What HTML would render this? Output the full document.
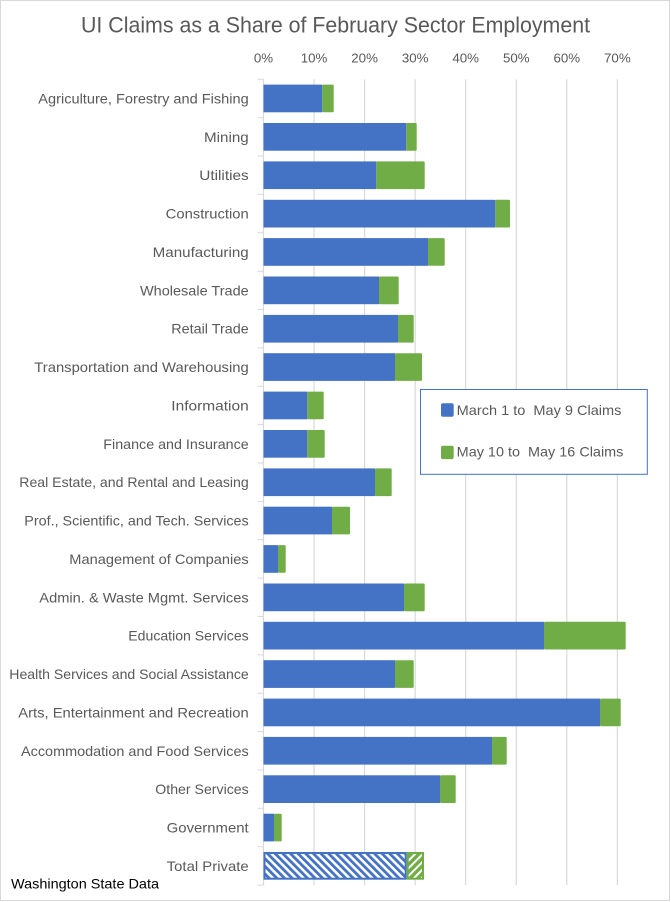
<!DOCTYPE html>
<html><head><meta charset="utf-8"><style>
html,body{margin:0;padding:0;background:#fff;}
svg{display:block;}
text{font-family:"Liberation Sans",Arial,sans-serif;}
</style></head><body>
<svg width="671" height="902" viewBox="0 0 671 902" xmlns="http://www.w3.org/2000/svg">
<defs>
<pattern id="hb" patternUnits="userSpaceOnUse" width="5.4" height="5.4" patternTransform="rotate(-45)">
<rect x="0" y="0" width="5.4" height="5.4" fill="#fff"/>
<rect x="0" y="0" width="2.8" height="5.4" fill="#4472C4"/>
</pattern>
<pattern id="hg" patternUnits="userSpaceOnUse" width="5.4" height="5.4" patternTransform="rotate(45)">
<rect x="0" y="0" width="5.4" height="5.4" fill="#70AD47"/>
<rect x="0" y="0" width="2" height="5.4" fill="#fff"/>
</pattern>
</defs>
<rect x="0" y="0" width="671" height="902" fill="#fff"/>
<rect x="0.5" y="0.5" width="669" height="900" fill="none" stroke="#d9d9d9" stroke-width="1"/>

<text x="335.5" y="32.7" font-size="22" fill="#595959" text-anchor="middle" textLength="509" lengthAdjust="spacingAndGlyphs">UI Claims as a Share of February Sector Employment</text>

<g font-size="13.3" fill="#595959" text-anchor="middle">
<text x="263.5" y="62.3">0%</text>
<text x="314.05" y="62.3">10%</text>
<text x="364.6" y="62.3">20%</text>
<text x="415.15" y="62.3">30%</text>
<text x="465.7" y="62.3">40%</text>
<text x="516.25" y="62.3">50%</text>
<text x="566.8" y="62.3">60%</text>
<text x="617.35" y="62.3">70%</text>
</g>

<g stroke="#d9d9d9" stroke-width="1.2">
<line x1="314.05" y1="79.3" x2="314.05" y2="885.1"/>
<line x1="364.6" y1="79.3" x2="364.6" y2="885.1"/>
<line x1="415.15" y1="79.3" x2="415.15" y2="885.1"/>
<line x1="465.7" y1="79.3" x2="465.7" y2="885.1"/>
<line x1="516.25" y1="79.3" x2="516.25" y2="885.1"/>
<line x1="566.8" y1="79.3" x2="566.8" y2="885.1"/>
<line x1="617.35" y1="79.3" x2="617.35" y2="885.1"/>
<line x1="263.5" y1="79.3" x2="263.5" y2="885.1"/>
</g>
<g stroke="#d9d9d9" stroke-width="1">
<line x1="257.5" x2="263.5" y1="79.3" y2="79.3"/>
<line x1="257.5" x2="263.5" y1="117.7" y2="117.7"/>
<line x1="257.5" x2="263.5" y1="156.0" y2="156.0"/>
<line x1="257.5" x2="263.5" y1="194.4" y2="194.4"/>
<line x1="257.5" x2="263.5" y1="232.8" y2="232.8"/>
<line x1="257.5" x2="263.5" y1="271.2" y2="271.2"/>
<line x1="257.5" x2="263.5" y1="309.5" y2="309.5"/>
<line x1="257.5" x2="263.5" y1="347.9" y2="347.9"/>
<line x1="257.5" x2="263.5" y1="386.3" y2="386.3"/>
<line x1="257.5" x2="263.5" y1="424.6" y2="424.6"/>
<line x1="257.5" x2="263.5" y1="463.0" y2="463.0"/>
<line x1="257.5" x2="263.5" y1="501.4" y2="501.4"/>
<line x1="257.5" x2="263.5" y1="539.7" y2="539.7"/>
<line x1="257.5" x2="263.5" y1="578.1" y2="578.1"/>
<line x1="257.5" x2="263.5" y1="616.5" y2="616.5"/>
<line x1="257.5" x2="263.5" y1="654.9" y2="654.9"/>
<line x1="257.5" x2="263.5" y1="693.2" y2="693.2"/>
<line x1="257.5" x2="263.5" y1="731.6" y2="731.6"/>
<line x1="257.5" x2="263.5" y1="770.0" y2="770.0"/>
<line x1="257.5" x2="263.5" y1="808.3" y2="808.3"/>
<line x1="257.5" x2="263.5" y1="846.7" y2="846.7"/>
<line x1="257.5" x2="263.5" y1="885.1" y2="885.1"/>
</g>

<g font-size="14" fill="#595959" text-anchor="end" lengthAdjust="spacingAndGlyphs">
<text x="248.7" y="103.5" textLength="210.4" lengthAdjust="spacingAndGlyphs">Agriculture, Forestry and Fishing</text>
<text x="248.7" y="141.9" textLength="44.7" lengthAdjust="spacingAndGlyphs">Mining</text>
<text x="248.7" y="180.2" textLength="49.4" lengthAdjust="spacingAndGlyphs">Utilities</text>
<text x="248.7" y="218.6" textLength="83" lengthAdjust="spacingAndGlyphs">Construction</text>
<text x="248.7" y="257.0" textLength="96" lengthAdjust="spacingAndGlyphs">Manufacturing</text>
<text x="248.7" y="295.3" textLength="108.7" lengthAdjust="spacingAndGlyphs">Wholesale Trade</text>
<text x="248.7" y="333.7" textLength="77.4" lengthAdjust="spacingAndGlyphs">Retail Trade</text>
<text x="248.7" y="372.1" textLength="214.4" lengthAdjust="spacingAndGlyphs">Transportation and Warehousing</text>
<text x="248.7" y="410.5" textLength="77.4" lengthAdjust="spacingAndGlyphs">Information</text>
<text x="248.7" y="448.8" textLength="145.4" lengthAdjust="spacingAndGlyphs">Finance and Insurance</text>
<text x="248.7" y="487.2" textLength="229.4" lengthAdjust="spacingAndGlyphs">Real Estate, and Rental and Leasing</text>
<text x="248.7" y="525.6" textLength="224.4" lengthAdjust="spacingAndGlyphs">Prof., Scientific, and Tech. Services</text>
<text x="248.7" y="563.9" textLength="179.4" lengthAdjust="spacingAndGlyphs">Management of Companies</text>
<text x="248.7" y="602.3" textLength="209.4" lengthAdjust="spacingAndGlyphs">Admin. &amp; Waste Mgmt. Services</text>
<text x="248.7" y="640.7" textLength="120.4" lengthAdjust="spacingAndGlyphs">Education Services</text>
<text x="248.7" y="679.0" textLength="239.4" lengthAdjust="spacingAndGlyphs">Health Services and Social Assistance</text>
<text x="248.7" y="717.4" textLength="230.4" lengthAdjust="spacingAndGlyphs">Arts, Entertainment and Recreation</text>
<text x="248.7" y="755.8" textLength="227.7" lengthAdjust="spacingAndGlyphs">Accommodation and Food Services</text>
<text x="248.7" y="794.1" textLength="93.4" lengthAdjust="spacingAndGlyphs">Other Services</text>
<text x="248.7" y="832.5" textLength="82" lengthAdjust="spacingAndGlyphs">Government</text>
<text x="248.7" y="870.9" textLength="82" lengthAdjust="spacingAndGlyphs">Total Private</text>
</g>

<g fill="#4472C4">
<rect x="263.5" y="84.6" width="58.8" height="27.7"/>
<rect x="263.5" y="123.0" width="142.8" height="27.7"/>
<rect x="263.5" y="161.4" width="112.8" height="27.7"/>
<rect x="263.5" y="199.8" width="231.8" height="27.7"/>
<rect x="263.5" y="238.1" width="164.5" height="27.7"/>
<rect x="263.5" y="276.5" width="115.5" height="27.7"/>
<rect x="263.5" y="314.9" width="134.5" height="27.7"/>
<rect x="263.5" y="353.2" width="131.5" height="27.7"/>
<rect x="263.5" y="391.6" width="43.8" height="27.7"/>
<rect x="263.5" y="430.0" width="43.8" height="27.7"/>
<rect x="263.5" y="468.4" width="111.5" height="27.7"/>
<rect x="263.5" y="506.7" width="68.5" height="27.7"/>
<rect x="263.5" y="545.1" width="14.5" height="27.7"/>
<rect x="263.5" y="583.5" width="140.5" height="27.7"/>
<rect x="263.5" y="621.8" width="280.5" height="27.7"/>
<rect x="263.5" y="660.2" width="131.5" height="27.7"/>
<rect x="263.5" y="698.6" width="336.5" height="27.7"/>
<rect x="263.5" y="736.9" width="228.5" height="27.7"/>
<rect x="263.5" y="775.3" width="176.5" height="27.7"/>
<rect x="263.5" y="813.7" width="10.5" height="27.7"/>
</g>
<g fill="#70AD47">
<rect x="322.3" y="84.6" width="11.4" height="27.7" rx="1"/>
<rect x="406.3" y="123.0" width="10.4" height="27.7" rx="1"/>
<rect x="376.3" y="161.4" width="48.4" height="27.7" rx="1"/>
<rect x="495.3" y="199.8" width="14.7" height="27.7" rx="1"/>
<rect x="428" y="238.1" width="16.7" height="27.7" rx="1"/>
<rect x="379" y="276.5" width="19.7" height="27.7" rx="1"/>
<rect x="398" y="314.9" width="15.7" height="27.7" rx="1"/>
<rect x="395" y="353.2" width="27" height="27.7" rx="1"/>
<rect x="307.3" y="391.6" width="16.4" height="27.7" rx="1"/>
<rect x="307.3" y="430.0" width="17.4" height="27.7" rx="1"/>
<rect x="375" y="468.4" width="16.7" height="27.7" rx="1"/>
<rect x="332" y="506.7" width="18" height="27.7" rx="1"/>
<rect x="278" y="545.1" width="7.7" height="27.7" rx="1"/>
<rect x="404" y="583.5" width="20.7" height="27.7" rx="1"/>
<rect x="544" y="621.8" width="81.7" height="27.7" rx="1"/>
<rect x="395" y="660.2" width="18.7" height="27.7" rx="1"/>
<rect x="600" y="698.6" width="20.7" height="27.7" rx="1"/>
<rect x="492" y="736.9" width="14.7" height="27.7" rx="1"/>
<rect x="440" y="775.3" width="15.7" height="27.7" rx="1"/>
<rect x="274" y="813.7" width="7.7" height="27.7" rx="1"/>
</g>

<rect x="264.5" y="853.0" width="141.2" height="25.7" fill="url(#hb)" stroke="#4472C4" stroke-width="2"/>
<rect x="407.7" y="853.0" width="15.3" height="25.7" fill="url(#hg)" stroke="#70AD47" stroke-width="2"/>

<rect x="420.5" y="389.5" width="226.8" height="84.8" fill="#fff" stroke="#4472C4" stroke-width="1"/>
<rect x="441" y="403.3" width="12.7" height="13.4" rx="2" fill="#4472C4"/>
<rect x="441" y="445.7" width="12.7" height="13.4" rx="2" fill="#70AD47"/>
<text x="456.7" y="415" font-size="14" fill="#595959" textLength="164.7" lengthAdjust="spacingAndGlyphs" xml:space="preserve">March 1 to  May 9 Claims</text>
<text x="456.7" y="456.7" font-size="14" fill="#595959" textLength="166.7" lengthAdjust="spacingAndGlyphs" xml:space="preserve">May 10 to  May 16 Claims</text>

<text x="11" y="888.3" font-size="14" fill="#000" textLength="148" lengthAdjust="spacingAndGlyphs">Washington State Data</text>
</svg>
</body></html>
